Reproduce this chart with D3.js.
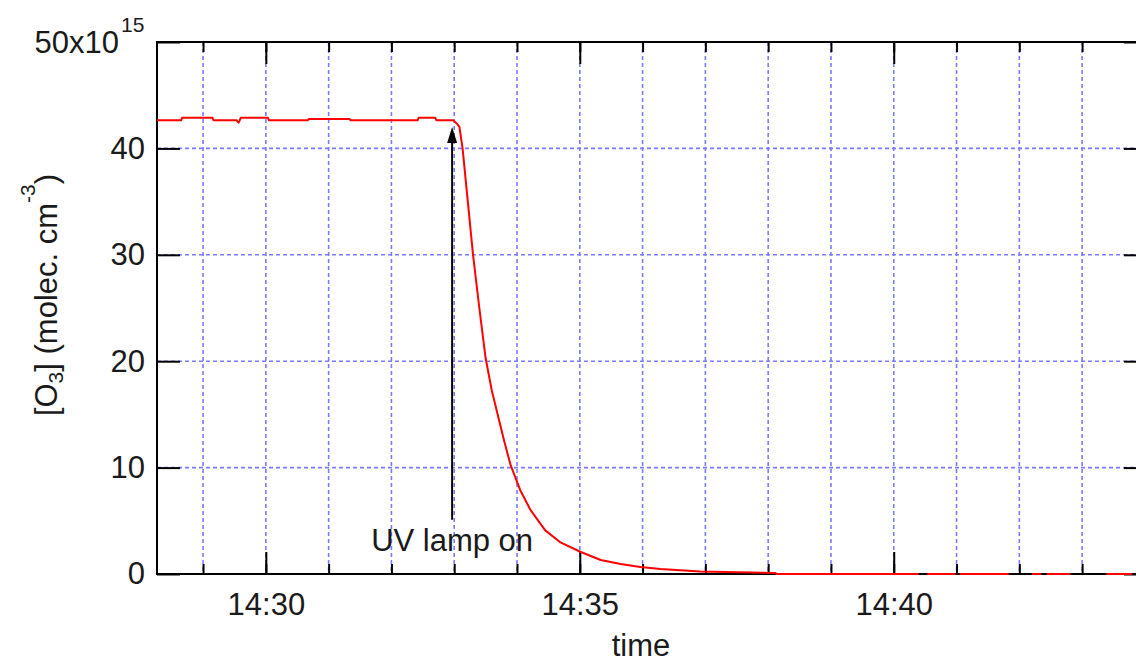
<!DOCTYPE html>
<html>
<head>
<meta charset="utf-8">
<script src="https://cdn.jsdelivr.net/npm/d3@7"></script>
<style>
  html, body { margin: 0; padding: 0; background: #fff; }
  svg { display: block; }
  text { font-family: "Liberation Sans", Arial, sans-serif; fill: #1a1a1a; }
</style>
</head>
<body>
<svg id="chart" width="1136" height="664"></svg>
<script>
// Ozone concentration record (units of 1e15 molec. cm^-3)
const sampleTimes = [
  "14:28:16", "14:28:39", "14:28:40", "14:29:09", "14:29:10", "14:29:32",
  "14:29:34", "14:29:35", "14:29:36", "14:30:02", "14:30:03", "14:30:40",
  "14:30:41", "14:31:20", "14:31:21", "14:32:25", "14:32:26", "14:32:42",
  "14:32:43", "14:32:59", "14:33:03", "14:33:05", "14:33:08", "14:33:13",
  "14:33:18", "14:33:24", "14:33:30", "14:33:36", "14:33:42", "14:33:48",
  "14:33:54", "14:34:03", "14:34:13", "14:34:27", "14:34:41", "14:35:01",
  "14:35:20", "14:35:39", "14:35:58", "14:36:17", "14:36:55", "14:38:07",
  "14:38:08", "14:40:23", "14:40:24", "14:40:32",
  "14:40:33", "14:40:58", "14:40:59", "14:41:03", "14:41:04", "14:41:49",
  "14:41:50", "14:42:12", "14:42:13", "14:42:20", "14:42:21", "14:42:26",
  "14:42:27", "14:42:48", "14:42:49", "14:43:23", "14:43:24", "14:43:47",
  "14:43:48", "14:44:02"
];
const o3Values = [
  42.64, 42.64, 42.88, 42.88, 42.64, 42.64,
  42.42, 42.64, 42.88, 42.88, 42.64, 42.64,
  42.76, 42.76, 42.64, 42.64, 42.88, 42.88,
  42.64, 42.64, 42.3, 42.0, 40.0, 35.0,
  30.0, 25.0, 20.3, 17.2, 14.8, 12.4,
  10.2, 7.9, 6.0, 4.1, 3.0, 2.07,
  1.32, 0.94, 0.66, 0.47, 0.24, 0.1,
  0.0, 0.0, -0.5, -0.5,
  0.0, 0.0, -0.5, -0.5, 0.0, 0.0,
  -0.5, -0.5, 0.0, 0.0, -0.5, -0.5,
  0.0, 0.0, -0.5, -0.5, 0.0, 0.0,
  -0.5, -0.5
];

// Axis settings
const timeDomain = ["14:28:16", "14:44:02"];
const yDomain = [0, 50];
const yTickValues = [0, 10, 20, 30, 40, 50];
const yGridValues = [10, 20, 30, 40];
const majorTimeTicks = ["14:30", "14:35", "14:40"];

// Annotation
const lampTime = "14:32:58";
const lampArrow = [5.1, 42.0];
const lampText = "UV lamp on";

const parseSec = d3.timeParse("%H:%M:%S");
const parseMin = d3.timeParse("%H:%M");
const fmt = d3.timeFormat("%H:%M");

const data = sampleTimes.map((t, i) => ({ t: parseSec(t), v: o3Values[i] }));

const plot = { left: 157, right: 1147, top: 42, bottom: 574 };

const x = d3.scaleTime().domain(timeDomain.map(parseSec)).range([plot.left, plot.right]);
const y = d3.scaleLinear().domain(yDomain).range([plot.bottom, plot.top]);

const svg = d3.select("#chart");
const black = "#000";
const gridColor = "#7b7bff";

// clip region for the data
svg.append("defs").append("clipPath").attr("id", "plotClip")
  .append("rect")
  .attr("x", plot.left - 1).attr("y", plot.top - 1)
  .attr("width", plot.right - plot.left + 2).attr("height", plot.bottom - plot.top + 2);

// Grid
const minuteTicks = x.ticks(d3.timeMinute.every(1));
const grid = svg.append("g")
  .attr("stroke", gridColor).attr("stroke-width", 1.6).attr("stroke-dasharray", "4,3");
grid.selectAll("line.vx").data(minuteTicks).join("line")
  .attr("x1", d => x(d)).attr("x2", d => x(d))
  .attr("y1", plot.top).attr("y2", plot.bottom);
grid.selectAll("line.hy").data(yGridValues).join("line")
  .attr("x1", plot.left).attr("x2", plot.right)
  .attr("y1", d => y(d)).attr("y2", d => y(d));

// Axes (ticks pointing inward)
const majorDates = majorTimeTicks.map(parseMin).map(d => {
  const r = new Date(x.domain()[0]); r.setHours(d.getHours(), d.getMinutes(), 0, 0); return r;
});

function styleAxis(g) {
  g.select(".domain").remove();
  g.selectAll(".tick line").attr("stroke", black).attr("stroke-width", 2);
  g.selectAll(".tick text").attr("font-size", 31).attr("fill", "#1a1a1a");
}

// bottom minor
svg.append("g").attr("transform", `translate(0,${plot.bottom})`)
  .call(d3.axisBottom(x).tickValues(minuteTicks).tickSize(-10).tickFormat(""))
  .call(styleAxis);
// bottom major with labels
svg.append("g").attr("transform", `translate(0,${plot.bottom})`)
  .call(d3.axisBottom(x).tickValues(majorDates).tickSize(-22).tickPadding(19).tickFormat(fmt))
  .call(styleAxis);
// top minor + major
svg.append("g").attr("transform", `translate(0,${plot.top})`)
  .call(d3.axisTop(x).tickValues(minuteTicks).tickSize(-10).tickFormat(""))
  .call(styleAxis);
svg.append("g").attr("transform", `translate(0,${plot.top})`)
  .call(d3.axisTop(x).tickValues(majorDates).tickSize(-22).tickFormat(""))
  .call(styleAxis);
// left with labels (top label carries the exponent)
svg.append("g").attr("transform", `translate(${plot.left},0)`)
  .call(d3.axisLeft(y).tickValues(yTickValues.slice(0, -1)).tickSize(-23).tickPadding(12).tickFormat(d3.format("d")))
  .call(styleAxis);
svg.append("g").attr("transform", `translate(${plot.left},0)`)
  .call(d3.axisLeft(y).tickValues(yTickValues.slice(-1)).tickSize(-23).tickFormat(""))
  .call(styleAxis);
// right
svg.append("g").attr("transform", `translate(${plot.right},0)`)
  .call(d3.axisRight(y).tickValues(yTickValues).tickSize(-23).tickFormat(""))
  .call(styleAxis);

// Frame
svg.append("rect")
  .attr("x", plot.left).attr("y", plot.top)
  .attr("width", plot.right - plot.left).attr("height", plot.bottom - plot.top)
  .attr("fill", "none").attr("stroke", black).attr("stroke-width", 2);

// Top tick label with multiplier: 50x10^15
svg.append("text")
  .attr("x", 119).attr("y", y(yDomain[1]) + 11)
  .attr("text-anchor", "end").attr("font-size", 31)
  .text("50x10");
svg.append("text")
  .attr("x", 121).attr("y", y(yDomain[1]) - 10)
  .attr("font-size", 21).text("15");

// Ozone trace
const line = d3.line().x(d => x(d.t)).y(d => y(d.v));
svg.append("path")
  .datum(data)
  .attr("clip-path", "url(#plotClip)")
  .attr("d", line)
  .attr("fill", "none").attr("stroke", "#ff0000").attr("stroke-width", 2)
  .attr("stroke-linejoin", "round");

// Annotation arrow
const ax = x(parseSec(lampTime));
const tipY = y(lampArrow[1]);
const baseY = y(lampArrow[0]);
svg.append("line")
  .attr("x1", ax).attr("x2", ax)
  .attr("y1", baseY).attr("y2", tipY + 10)
  .attr("stroke", black).attr("stroke-width", 2);
svg.append("path")
  .attr("d", `M${ax},${tipY} L${ax + 5},${tipY + 16} L${ax - 5},${tipY + 16} Z`)
  .attr("fill", black);
svg.append("text")
  .attr("x", ax).attr("y", baseY + 31)
  .attr("text-anchor", "middle").attr("font-size", 31)
  .text(lampText);

// Axis titles
svg.append("text")
  .attr("x", 641).attr("y", 656)
  .attr("text-anchor", "middle").attr("font-size", 31)
  .text("time");

const yTitle = svg.append("text")
  .attr("transform", "translate(57,295) rotate(-90)")
  .attr("text-anchor", "middle").attr("font-size", 31);
yTitle.append("tspan").text("[O");
yTitle.append("tspan").attr("font-size", 21).attr("dy", 6).text("3");
yTitle.append("tspan").attr("dy", -6).text("] (molec. cm");
yTitle.append("tspan").attr("font-size", 21).attr("dy", -22).text("-3");
yTitle.append("tspan").attr("dy", 22).text(")");
</script>
</body>
</html>
